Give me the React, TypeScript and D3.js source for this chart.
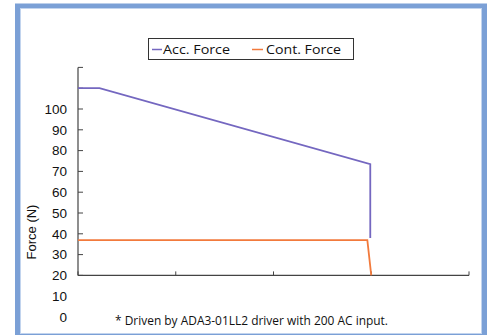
import React from "react";
import * as d3 from "d3";

const accX = [0, 0.22, 2.99, 2.99];
const accY = [110, 110, 73.5, 38];
const contX = [0, 2.96, 3.0];
const contY = [37, 37, 20];
const yTickValues = [20, 30, 40, 50, 60, 70, 80, 90, 100, 110, 120];
const yLabelValues = [0, 10, 20, 30, 40, 50, 60, 70, 80, 90, 100];
const xTickValues = [0, 1, 2, 3, 4];
const seriesNames = ["Acc. Force", "Cont. Force"];
const yTitle = "Force (N)";
const footnote = "* Driven by ADA3-01LL2 driver with 200 AC input.";

const W = 489;
const H = 335;
const ACC = "#7467c0";
const CONT = "#f27a3c";
const AXIS = "#444";

export default function App() {
  const x = d3.scaleLinear().domain([0, 4]).range([78, 469]);
  const y = d3.scaleLinear().domain([0, 100]).range([317, 109]);
  const line = d3
    .line<[number, number]>()
    .x((d) => x(d[0]))
    .y((d) => y(d[1]));
  const accPts = accX.map((v, i) => [v, accY[i]] as [number, number]);
  const contPts = contX.map((v, i) => [v, contY[i]] as [number, number]);
  const yBase = y(20);
  const yTop = y(120);
  const font = "'Liberation Sans', Arial, sans-serif";
  const font2 = "'Open Sans', 'Noto Sans', sans-serif";

  return (
    <svg
      width={W}
      height={H}
      style={{ position: "absolute", left: 0, top: 0, background: "#fff" }}
    >
      <rect x={17.5} y={6} width={467} height={330.5} fill="#fff" stroke="#7ba0d6" strokeWidth={5} />
      <rect x={20.5} y={8.5} width={461} height={325} fill="none" stroke="#c2d4ee" strokeWidth={1} />

      {/* legend */}
      <rect x={148.5} y={38.5} width={205} height={21} fill="#fff" stroke="#333" strokeWidth={1} />
      <line x1={152} x2={162} y1={49.5} y2={49.5} stroke={ACC} strokeWidth={1.5} />
      <text x={163} y={54} fontFamily={font2} fontSize={13.5} textLength={67} lengthAdjust="spacingAndGlyphs" fill="#111">{seriesNames[0]}</text>
      <line x1={252} x2={263} y1={49.5} y2={49.5} stroke={CONT} strokeWidth={1.5} />
      <text x={266} y={54} fontFamily={font2} fontSize={13.5} textLength={75} lengthAdjust="spacingAndGlyphs" fill="#111">{seriesNames[1]}</text>

      {/* y axis */}
      <line x1={78} x2={78} y1={yTop} y2={yBase} stroke={AXIS} strokeWidth={1.2} />
      {yTickValues.map((v) => (
        <line key={v} x1={78} x2={83} y1={y(v)} y2={y(v)} stroke={AXIS} strokeWidth={1} />
      ))}
      {yLabelValues.map((v) => (
        <text key={v} x={67} y={y(v)} dy="0.36em" textAnchor="end" fontFamily={font} fontSize={13.5} fill="#111">
          {v}
        </text>
      ))}
      <text
        transform={`translate(36,${232}) rotate(-90)`}
        textAnchor="middle"
        fontFamily={font}
        fontSize={13}
        fill="#111"
      >
        {yTitle}
      </text>

      {/* x axis */}
      <line x1={x(0)} x2={x(4)} y1={yBase} y2={yBase} stroke={AXIS} strokeWidth={1.2} />
      {xTickValues.map((v) => (
        <line key={v} x1={x(v)} x2={x(v)} y1={yBase} y2={yBase - 4} stroke={AXIS} strokeWidth={1} />
      ))}

      {/* series */}
      <path d={line(contPts) || ""} fill="none" stroke={CONT} strokeWidth={1.8} />
      <path d={line(accPts) || ""} fill="none" stroke={ACC} strokeWidth={1.8} />

      <text x={115} y={325} fontFamily={font2} fontSize={12} textLength={273} lengthAdjust="spacingAndGlyphs" fill="#111">{footnote}</text>
    </svg>
  );
}
